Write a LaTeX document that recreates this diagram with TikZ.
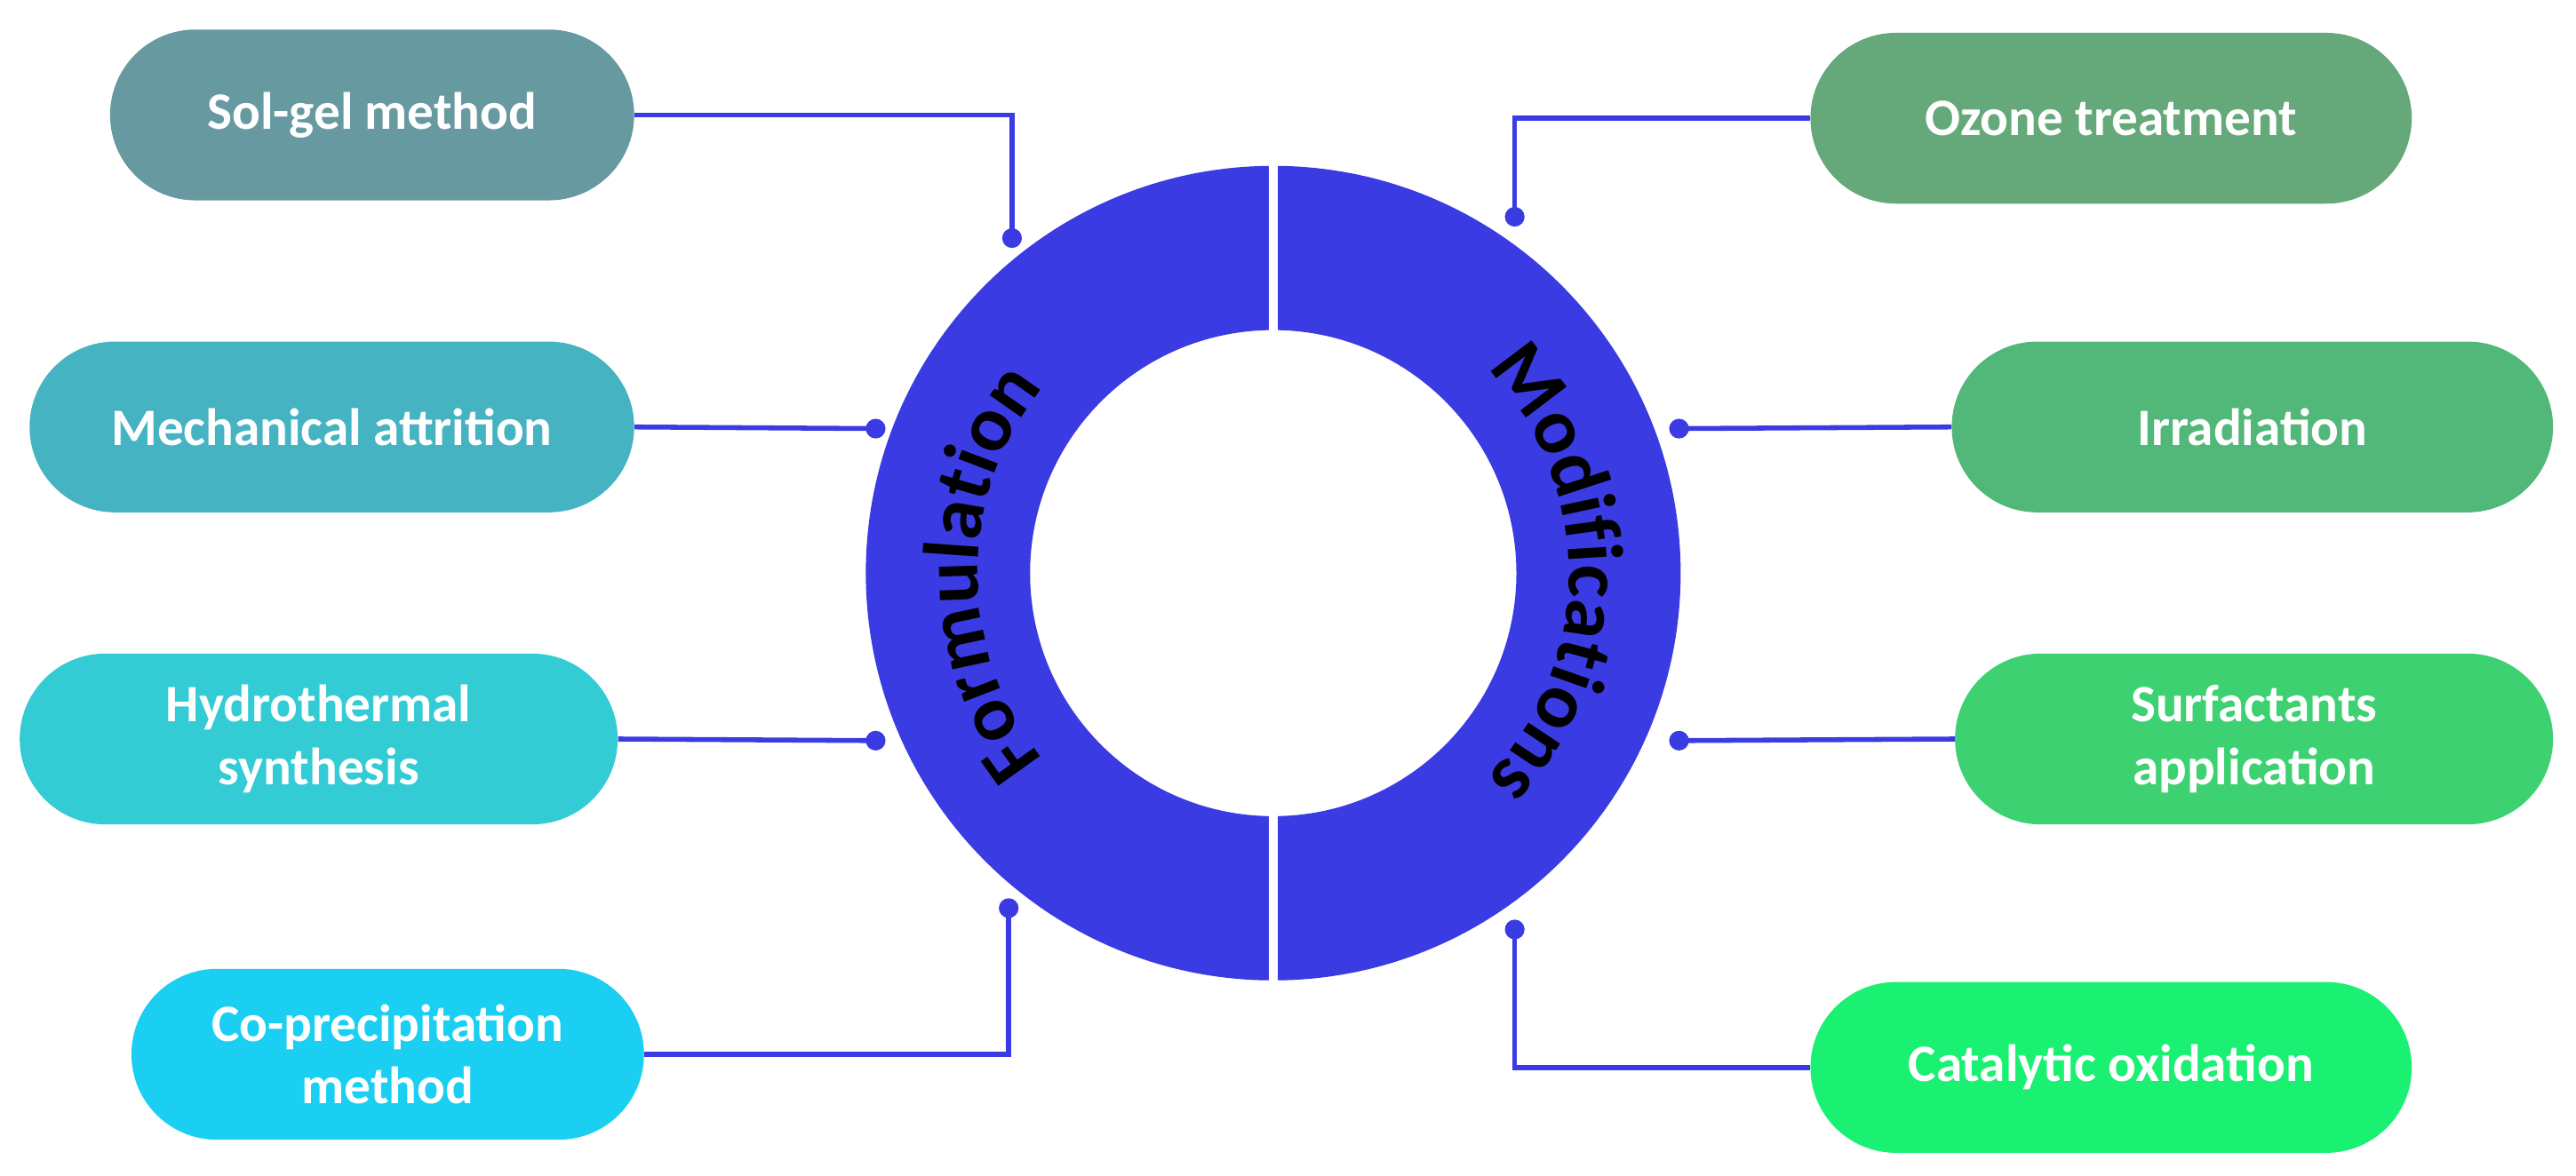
\documentclass[tikz,border=0pt]{standalone}
\usepackage{fontspec}
\setmainfont{Carlito}
\usetikzlibrary{shapes.misc,decorations.text}
\definecolor{ring}{HTML}{3B3BE3}
\definecolor{cA}{HTML}{6699A0}
\definecolor{cB}{HTML}{45B3C2}
\definecolor{cC}{HTML}{33CCD5}
\definecolor{cD}{HTML}{1ACFF2}
\definecolor{cE}{HTML}{65A87A}
\definecolor{cF}{HTML}{52B87A}
\definecolor{cG}{HTML}{3DD172}
\definecolor{cH}{HTML}{1AF072}
\tikzset{
  pill/.style={rounded rectangle, minimum height=104pt, inner sep=0pt, text=white,
    font=\bfseries\fontsize{32}{38}\selectfont, align=center},
  conn/.style={draw=ring, line width=3pt},
  dotm/.style={circle, fill=ring, inner sep=0pt, minimum size=12pt}
}
\begin{document}
\begin{tikzpicture}[x=1pt,y=1pt]
\useasboundingbox (0,0) rectangle (1568,716);
\coordinate (c) at (775,367);
\fill[ring, even odd rule] (c) circle[radius=248] (c) circle[radius=148];
\fill[white] (772.5,367+146) rectangle (777.5,367+252);
\fill[white] (772.5,367-146) rectangle (777.5,367-252);
% boxes
\node[pill, fill=cA, minimum width=319pt] (b1) at (226.5,646) {Sol-gel method};
\node[pill, fill=cB, minimum width=368pt] (b2) at (202,456) {Mechanical attrition};
\node[pill, fill=cC, minimum width=364pt] (b3) at (194,266) {Hydrothermal\\synthesis};
\node[pill, fill=cD, minimum width=312pt] (b4) at (236,74) {Co-precipitation\\method};
\node[pill, fill=cE, minimum width=366pt] (b5) at (1285,644) {Ozone treatment};
\node[pill, fill=cF, minimum width=366pt] (b6) at (1371,456) {Irradiation};
\node[pill, fill=cG, minimum width=364pt] (b7) at (1372,266) {Surfactants\\application};
\node[pill, fill=cH, minimum width=366pt] (b8) at (1285,66) {Catalytic oxidation};
% dots
\node[dotm] (d1) at (616,571) {};
\node[dotm] (d2) at (533,455) {};
\node[dotm] (d3) at (533,265) {};
\node[dotm] (d4) at (614,163) {};
\node[dotm] (d5) at (922,584) {};
\node[dotm] (d6) at (1022,455) {};
\node[dotm] (d7) at (1022,265) {};
\node[dotm] (d8) at (922,150) {};
% connectors
\draw[conn] (b1.east) -- (d1 |- b1.east) -- (d1.center);
\draw[conn] (b2.east) -- (d2.center);
\draw[conn] (b3.east) -- (d3.center);
\draw[conn] (b4.east) -- (d4 |- b4.east) -- (d4.center);
\draw[conn] (b5.west) -- (d5 |- b5.west) -- (d5.center);
\draw[conn] (b6.west) -- (d6.center);
\draw[conn] (b7.west) -- (d7.center);
\draw[conn] (b8.west) -- (d8 |- b8.west) -- (d8.center);
% curved labels
\path[decorate, decoration={text along path, text align=center,
  text={|\bfseries\fontsize{48}{48}\selectfont|Formulation}}]
  (c) ++(225:180) arc[start angle=225, end angle=135, radius=180];
\path[decorate, decoration={text along path, text align=center,
  text={|\bfseries\fontsize{48}{48}\selectfont|Modifications}}]
  (c) ++(48:180) arc[start angle=48, end angle=-48, radius=180];
\end{tikzpicture}
\end{document}
